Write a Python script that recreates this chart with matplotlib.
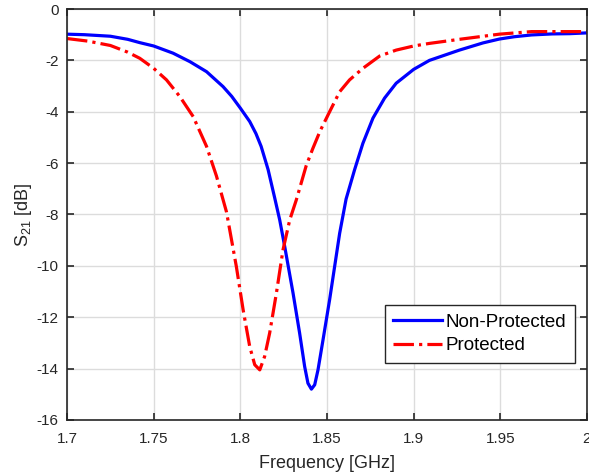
import matplotlib as mpl
mpl.use('Agg')
import matplotlib.pyplot as plt

plt.rcParams['font.family'] = ['Liberation Sans', 'DejaVu Sans']
plt.rcParams['axes.unicode_minus'] = False

# Non-Protected (blue)
freq_np = [1.700, 1.710, 1.725, 1.735, 1.742, 1.750, 1.7612, 1.7709, 1.7805, 1.790,
           1.795, 1.800, 1.8054, 1.809, 1.812, 1.816, 1.8198, 1.8227, 1.8256, 1.8304,
           1.8342, 1.8371, 1.839, 1.841, 1.8429, 1.8448, 1.8477, 1.8515, 1.8573, 1.861,
           1.8659, 1.8707, 1.8765, 1.8832, 1.8899, 1.900, 1.9091, 1.9264, 1.940, 1.9494,
           1.958, 1.968, 1.980, 1.990, 2.000]
s21_np = [-0.98, -1.00, -1.06, -1.18, -1.31, -1.44, -1.72, -2.05, -2.44, -3.02,
          -3.40, -3.86, -4.38, -4.85, -5.35, -6.25, -7.35, -8.21, -9.25, -11.06,
          -12.62, -13.92, -14.57, -14.8, -14.63, -14.05, -12.88, -11.32, -8.73, -7.4,
          -6.26, -5.23, -4.25, -3.47, -2.89, -2.35, -2.0, -1.6, -1.32, -1.17,
          -1.08, -1.01, -0.97, -0.96, -0.93]

# Protected (red dash-dot)
freq_p = [1.700, 1.712, 1.725, 1.735, 1.742, 1.750, 1.7574, 1.7651, 1.7728, 1.7805,
          1.7862, 1.792, 1.7977, 1.8016, 1.8054, 1.8083, 1.8112, 1.814, 1.8169, 1.8208,
          1.8246, 1.8285, 1.8323, 1.838, 1.8417, 1.846, 1.8515, 1.8573, 1.863, 1.8707,
          1.8804, 1.8899, 1.900, 1.909, 1.9264, 1.9494, 1.968, 1.985, 2.000]
s21_p = [-1.15, -1.25, -1.42, -1.68, -1.92, -2.31, -2.76, -3.41, -4.19, -5.35,
         -6.5, -7.9, -10.03, -11.71, -13.14, -13.85, -14.05, -13.53, -12.62, -11.06,
         -9.38, -8.21, -7.43, -6.1, -5.45, -4.75, -4.0, -3.22, -2.76, -2.31,
         -1.83, -1.6, -1.44, -1.34, -1.18, -0.98, -0.88, -0.88, -0.88]

xticks = [1.7, 1.75, 1.8, 1.85, 1.9, 1.95, 2]
xticklabels = ['1.7', '1.75', '1.8', '1.85', '1.9', '1.95', '2']
yticks = [-16, -14, -12, -10, -8, -6, -4, -2, 0]

dark = '#262626'
fig = plt.figure(figsize=(5.89, 4.74), dpi=100)
ax = fig.add_axes([0.1138, 0.114, 0.8828, 0.867])

ax.plot(freq_np, s21_np, color='#0000ff', lw=2.3, label='Non-Protected')
ax.plot(freq_p, s21_p, color='#ff0000', lw=2.3, ls='-.', label='Protected')

ax.set_xlim(1.7, 2.0)
ax.set_ylim(-16, 0)
ax.set_xticks(xticks)
ax.set_xticklabels(xticklabels)
ax.set_yticks(yticks)
ax.grid(True, color='#dcdcdc', lw=1.0)
ax.set_axisbelow(True)
ax.tick_params(direction='in', top=True, right=True, length=5, width=1.2,
               labelsize=11, colors=dark, labelcolor=dark)
ax.tick_params(axis='x', pad=9)
ax.tick_params(axis='y', pad=6)
for s in ax.spines.values():
    s.set_color(dark)
    s.set_linewidth(1.2)

ax.set_xlabel('Frequency [GHz]', fontsize=13, color=dark, labelpad=6)
ax.set_ylabel('S$_{\\mathregular{21}}$ [dB]', fontsize=13, color=dark, labelpad=2)

leg = ax.legend(loc='lower right', bbox_to_anchor=(0.977, 0.139), fontsize=13.5,
                frameon=True, fancybox=False, edgecolor=dark, framealpha=1,
                handlelength=2.6, handletextpad=0.2, borderpad=0.45,
                labelspacing=0.35, borderaxespad=0)
leg.get_frame().set_linewidth(1.0)

plt.savefig('out.png', dpi=100)
